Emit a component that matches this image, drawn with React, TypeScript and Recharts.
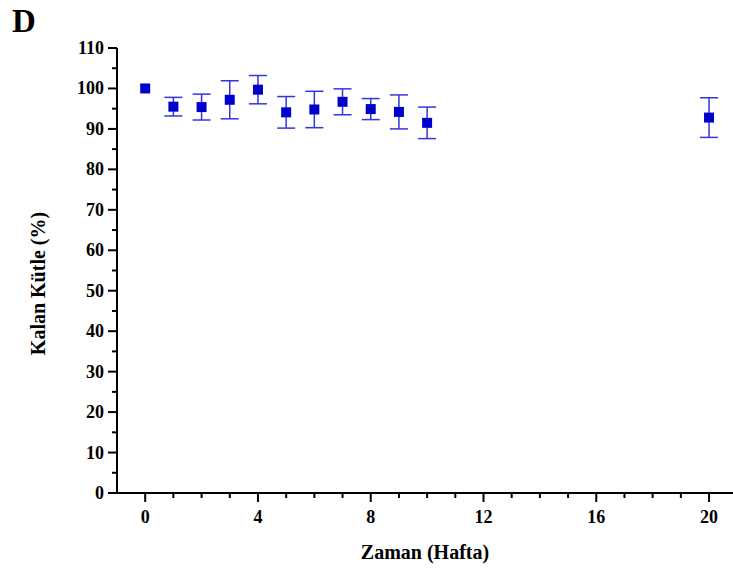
import { ScatterChart, Scatter, XAxis, YAxis, ErrorBar } from "recharts";

const weeks = [0, 1, 2, 3, 4, 5, 6, 7, 8, 9, 10, 20];
const remainingMass = [100, 95.5, 95.4, 97.2, 99.7, 94.1, 94.8, 96.7, 94.9, 94.2, 91.5, 92.8];
const massSd = [null, 2.3, 3.2, 4.7, 3.5, 3.9, 4.5, 3.2, 2.6, 4.2, 3.9, 4.9];

const xTicks = [0, 1, 2, 3, 4, 5, 6, 7, 8, 9, 10, 11, 12, 13, 14, 15, 16, 17, 18, 19, 20];
const yTicks = [0, 5, 10, 15, 20, 25, 30, 35, 40, 45, 50, 55, 60, 65, 70, 75, 80, 85, 90, 95, 100, 105, 110];

const data = weeks.map((w, i) => ({ week: w, mass: remainingMass[i], sd: massSd[i] }));

const FONT = '"Liberation Serif", "Times New Roman", serif';
const BLUE = "#0000cc";

const YTick = (props: any) => {
  const { x, y, payload } = props;
  const major = payload.value % 10 === 0;
  return (
    <g>
      <line x1={x} x2={x - (major ? 9 : 5)} y1={y} y2={y} stroke="#000" strokeWidth={2} />
      {major && (
        <text x={x - 13} y={y} dy={6} textAnchor="end" fontFamily={FONT} fontWeight="bold" fontSize={18} fill="#000">
          {payload.value}
        </text>
      )}
    </g>
  );
};

const XTick = (props: any) => {
  const { x, y, payload } = props;
  const major = payload.value % 4 === 0;
  return (
    <g>
      <line x1={x} x2={x} y1={y} y2={y + (major ? 9 : 5)} stroke="#000" strokeWidth={2} />
      {major && (
        <text x={x} y={y + 30} textAnchor="middle" fontFamily={FONT} fontWeight="bold" fontSize={18} fill="#000">
          {payload.value}
        </text>
      )}
    </g>
  );
};

const SquareDot = (p: any) => (
  <rect x={p.cx - 5} y={p.cy - 5} width={10} height={10} fill={BLUE} />
);

export default function App() {
  return (
    <div style={{ position: "absolute", left: 0, top: 0, width: 733, height: 571, background: "#fff" }}>
      <svg width={60} height={50} style={{ position: "absolute", left: 0, top: 0 }}>
        <text x={12} y={32} fontFamily={FONT} fontWeight="bold" fontSize={33} fill="#000">
          D
        </text>
      </svg>
      <ScatterChart width={733} height={571} margin={{ top: 48, right: 0, bottom: 0, left: 0 }}>
        <XAxis
          type="number"
          dataKey="week"
          domain={[-1, 20.85]}
          ticks={xTicks}
          interval={0}
          allowDataOverflow
          height={78}
          tickSize={0}
          tickMargin={0}
          tickLine={false}
          tick={<XTick />}
          axisLine={{ stroke: "#000", strokeWidth: 2 }}
          label={{
            value: "Zaman (Hafta)",
            position: "insideBottom",
            offset: 12,
            style: { fontFamily: FONT, fontWeight: "bold", fontSize: 20, fill: "#000" },
          }}
        />
        <YAxis
          type="number"
          dataKey="mass"
          domain={[0, 110]}
          ticks={yTicks}
          interval={0}
          width={117}
          tickSize={0}
          tickMargin={0}
          tickLine={false}
          tick={<YTick />}
          axisLine={{ stroke: "#000", strokeWidth: 2 }}
          label={{
            value: "Kalan Kütle (%)",
            angle: -90,
            position: "center",
            dx: -21,
            dy: 13,
            style: { fontFamily: FONT, fontWeight: "bold", fontSize: 20, fill: "#000", textAnchor: "middle" },
          }}
        />
        <Scatter data={data} shape={SquareDot} isAnimationActive={false}>
          <ErrorBar dataKey="sd" direction="y" width={9} stroke="#3535e0" strokeWidth={1.5} />
        </Scatter>
      </ScatterChart>
    </div>
  );
}
